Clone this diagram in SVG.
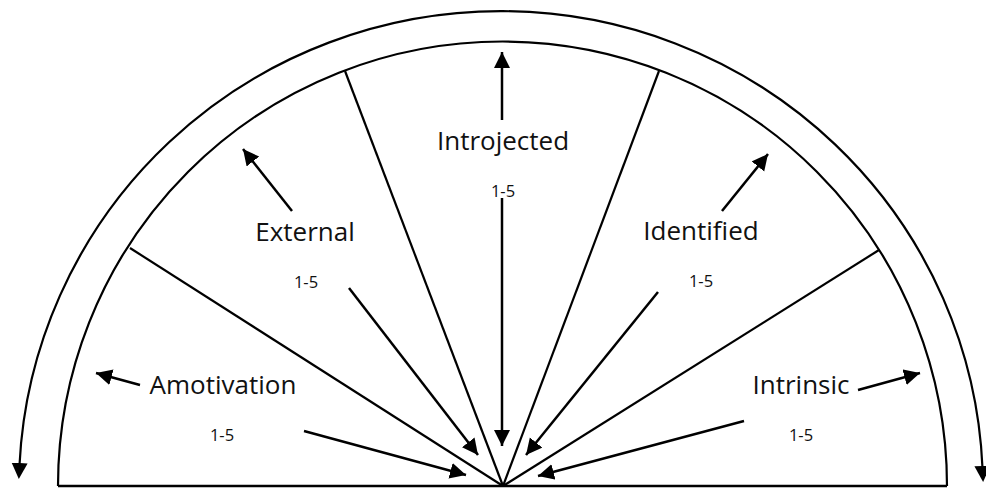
<svg xmlns="http://www.w3.org/2000/svg" width="986" height="488" viewBox="0 0 986 488">
  <style>
    .frame { fill: none; stroke: #000; stroke-width: 2.2; }
    .base { fill: none; stroke: #000; stroke-width: 2.5; }
    .arrow { fill: none; stroke: #000; stroke-width: 2.5; marker-end: url(#head); }
    .label { font-family: "Open Sans", "Noto Sans", sans-serif; font-size: 26px; fill: #111; text-anchor: middle; }
    .score { font-family: "Open Sans", "Noto Sans", sans-serif; font-size: 16.5px; fill: #111; text-anchor: middle; }
  </style>
  <defs>
    <marker id="head" markerUnits="userSpaceOnUse" markerWidth="17" markerHeight="17" refX="16" refY="8" orient="auto">
      <path d="M0,0 L16,8 L0,16 Z" fill="#000"/>
    </marker>
    <marker id="headArc" markerUnits="userSpaceOnUse" markerWidth="17" markerHeight="17" refX="2" refY="8" orient="auto-start-reverse">
      <path d="M0,0 L16,8 L0,16 Z" fill="#000"/>
    </marker>
  </defs>
  <rect width="986" height="488" fill="#fff"/>

  <g id="structure">
    <path class="frame" d="M 19.5 465 A 482 477 0 0 1 982.5 468" marker-start="url(#headArc)" marker-end="url(#headArc)"/>
    <path class="frame" d="M 58 486 A 444.5 444.5 0 0 1 947 486"/>
    <line class="base" x1="58" y1="486" x2="947" y2="486"/>
    <line class="frame" x1="503" y1="486" x2="130" y2="248"/>
    <line class="frame" x1="503" y1="486" x2="345" y2="71"/>
    <line class="frame" x1="503" y1="486" x2="659" y2="71"/>
    <line class="frame" x1="503" y1="486" x2="879" y2="250"/>
  </g>

  <g id="amotivation">
    <text class="label" x="223" y="394">Amotivation</text>
    <text class="score" x="222" y="441">1-5</text>
  </g>
  <g id="external">
    <text class="label" x="305" y="241">External</text>
    <text class="score" x="306" y="288">1-5</text>
  </g>
  <g id="introjected">
    <text class="label" x="503" y="150">Introjected</text>
    <text class="score" x="503" y="197">1-5</text>
  </g>
  <g id="identified">
    <text class="label" x="701" y="240">Identified</text>
    <text class="score" x="701" y="287">1-5</text>
  </g>
  <g id="intrinsic">
    <text class="label" x="801" y="394">Intrinsic</text>
    <text class="score" x="801" y="441">1-5</text>
  </g>

  <g id="connectors">
    <line class="arrow" x1="140" y1="385" x2="96" y2="373"/>
    <line class="arrow" x1="304" y1="431" x2="466" y2="475"/>
    <line class="arrow" x1="292" y1="211" x2="243" y2="149"/>
    <line class="arrow" x1="349" y1="288" x2="478" y2="455"/>
    <line class="arrow" x1="502" y1="120" x2="502" y2="52"/>
    <line class="arrow" x1="502" y1="198" x2="502" y2="446"/>
    <line class="arrow" x1="722" y1="211" x2="768" y2="154"/>
    <line class="arrow" x1="658" y1="292" x2="526" y2="455"/>
    <line class="arrow" x1="858" y1="390" x2="920" y2="373"/>
    <line class="arrow" x1="744" y1="421" x2="538" y2="476"/>
  </g>
</svg>
